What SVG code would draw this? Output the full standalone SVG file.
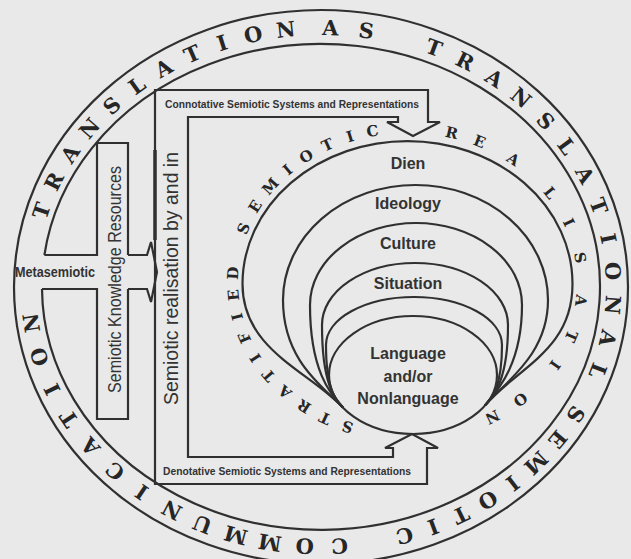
<svg xmlns="http://www.w3.org/2000/svg" width="631" height="559" viewBox="0 0 631 559">
<style>
.ln{fill:none;stroke:#303030;stroke-width:2.2;stroke-linejoin:miter}
.rl{font-family:"DejaVu Serif",serif;font-weight:bold;font-size:21px;fill:#262626;text-anchor:middle;dominant-baseline:central}
.sl{font-family:"DejaVu Serif",serif;font-weight:bold;font-size:15px;fill:#262626;text-anchor:middle;dominant-baseline:central}
.lb{font-family:"Liberation Sans",Arial,sans-serif;font-weight:bold;font-size:16px;fill:#333;text-anchor:middle}
.sm{font-family:"Liberation Sans",Arial,sans-serif;font-weight:bold;font-size:11px;fill:#333;text-anchor:middle}
.vt{font-family:"Liberation Sans",Arial,sans-serif;fill:#333;text-anchor:middle}
</style>
<defs>
<path id="ringMid" d="M 28,287 A 293 260 0 1 1 614,287 A 293 260 0 1 1 28,287"/>
<path id="stratMid" d="M 407.5,436 A 174.5 154 0 0 1 233,282 A 174.5 154 0 0 1 407.5,128 A 174.5 154 0 0 1 582,282 A 174.5 154 0 0 1 407.5,436"/>
</defs>
<rect width="631" height="559" fill="#e9e9e9"/>

<g id="ring">
<ellipse class="ln" cx="321" cy="287" rx="307" ry="277"/>
<path class="ln" d="M 44.4,255 A 279 243 0 1 1 42,289"/>
<text class="rl"><textPath href="#ringMid" startOffset="78">T</textPath></text>
<text class="rl"><textPath href="#ringMid" startOffset="110">R</textPath></text>
<text class="rl"><textPath href="#ringMid" startOffset="142">A</textPath></text>
<text class="rl"><textPath href="#ringMid" startOffset="174">N</textPath></text>
<text class="rl"><textPath href="#ringMid" startOffset="206">S</textPath></text>
<text class="rl"><textPath href="#ringMid" startOffset="238">L</textPath></text>
<text class="rl"><textPath href="#ringMid" startOffset="270">A</textPath></text>
<text class="rl"><textPath href="#ringMid" startOffset="302">T</textPath></text>
<text class="rl"><textPath href="#ringMid" startOffset="334">I</textPath></text>
<text class="rl"><textPath href="#ringMid" startOffset="366">O</textPath></text>
<text class="rl"><textPath href="#ringMid" startOffset="399">N</textPath></text>
<text class="rl"><textPath href="#ringMid" startOffset="444">A</textPath></text>
<text class="rl"><textPath href="#ringMid" startOffset="480">S</textPath></text>
<text class="rl"><textPath href="#ringMid" startOffset="550">T</textPath></text>
<text class="rl"><textPath href="#ringMid" startOffset="584">R</textPath></text>
<text class="rl"><textPath href="#ringMid" startOffset="618">A</textPath></text>
<text class="rl"><textPath href="#ringMid" startOffset="651">N</textPath></text>
<text class="rl"><textPath href="#ringMid" startOffset="685">S</textPath></text>
<text class="rl"><textPath href="#ringMid" startOffset="718">L</textPath></text>
<text class="rl"><textPath href="#ringMid" startOffset="752">A</textPath></text>
<text class="rl"><textPath href="#ringMid" startOffset="786">T</textPath></text>
<text class="rl"><textPath href="#ringMid" startOffset="820">I</textPath></text>
<text class="rl"><textPath href="#ringMid" startOffset="853">O</textPath></text>
<text class="rl"><textPath href="#ringMid" startOffset="887">N</textPath></text>
<text class="rl"><textPath href="#ringMid" startOffset="921">A</textPath></text>
<text class="rl"><textPath href="#ringMid" startOffset="955">L</textPath></text>
<text class="rl"><textPath href="#ringMid" startOffset="1004">S</textPath></text>
<text class="rl"><textPath href="#ringMid" startOffset="1035">E</textPath></text>
<text class="rl"><textPath href="#ringMid" startOffset="1067">M</textPath></text>
<text class="rl"><textPath href="#ringMid" startOffset="1098">I</textPath></text>
<text class="rl"><textPath href="#ringMid" startOffset="1128">O</textPath></text>
<text class="rl"><textPath href="#ringMid" startOffset="1159">T</textPath></text>
<text class="rl"><textPath href="#ringMid" startOffset="1189">I</textPath></text>
<text class="rl"><textPath href="#ringMid" startOffset="1219">C</textPath></text>
<text class="rl"><textPath href="#ringMid" startOffset="1285">C</textPath></text>
<text class="rl"><textPath href="#ringMid" startOffset="1320">O</textPath></text>
<text class="rl"><textPath href="#ringMid" startOffset="1355">M</textPath></text>
<text class="rl"><textPath href="#ringMid" startOffset="1390">M</textPath></text>
<text class="rl"><textPath href="#ringMid" startOffset="1425">U</textPath></text>
<text class="rl"><textPath href="#ringMid" startOffset="1459">N</textPath></text>
<text class="rl"><textPath href="#ringMid" startOffset="1494">I</textPath></text>
<text class="rl"><textPath href="#ringMid" startOffset="1528">C</textPath></text>
<text class="rl"><textPath href="#ringMid" startOffset="1563">A</textPath></text>
<text class="rl"><textPath href="#ringMid" startOffset="1598">T</textPath></text>
<text class="rl"><textPath href="#ringMid" startOffset="1632">I</textPath></text>
<text class="rl"><textPath href="#ringMid" startOffset="1667">O</textPath></text>
<text class="rl"><textPath href="#ringMid" startOffset="1702">N</textPath></text>
</g>

<g id="metasemiotic">
<text x="55" y="277" class="vt" font-size="14" font-weight="bold" textLength="80" lengthAdjust="spacingAndGlyphs">Metasemiotic</text>
</g>

<g id="knowledge-resources">
<path class="ln" d="M 44.4,255 L 97,255 L 97,143 L 128,143 L 128,255 M 128,289 L 128,419 L 97,419 L 97,289 L 42,289"/>
<text class="vt" font-size="19" transform="translate(121,279.5) rotate(-90)" textLength="227" lengthAdjust="spacingAndGlyphs">Semiotic Knowledge Resources</text>
</g>

<g id="realisation-frame">
<path class="ln" d="M 413,136 L 440,122 L 428,122 L 428,90 L 155,90 L 155,484 L 427,484 L 427,448 L 438,448 L 412,434 L 385,448 L 393,448 L 393,457 L 188,457 L 188,117 L 398,117 L 398,122 L 387,122 Z"/>
<line x1="155" y1="150" x2="155" y2="240" stroke="#303030" stroke-width="3.5"/>
<text class="vt" font-size="21" transform="translate(178,278.5) rotate(-90)" textLength="253" lengthAdjust="spacingAndGlyphs">Semiotic realisation by and in</text>
<text x="292" y="107.5" class="sm" textLength="254" lengthAdjust="spacingAndGlyphs">Connotative Semiotic Systems and Representations</text>
<text x="287" y="474.5" class="sm" textLength="248" lengthAdjust="spacingAndGlyphs">Denotative Semiotic Systems and Representations</text>
</g>

<g id="strata">
<path class="ln" d="M 343,407.6 C 309,371 242.5,350 242.5,284 A 165 143 0 0 1 572.5,284 C 572.5,350 518,367 485,405.4"/>
<path class="ln" d="M 343,407.6 C 322,386 283,360 283,300 A 132.5 115 0 0 1 548,300 C 548,355 505,382 485,405.4"/>
<path class="ln" d="M 343,407.6 C 330,394 310,370 310,305 A 106 82 0 0 1 522,305 C 522,365 497,391 485,405.4"/>
<path class="ln" d="M 343,407.6 C 335,399 322,385 322,325 A 93 62 0 0 1 508,325 C 508,382 493,396 485,405.4"/>
<path class="ln" d="M 343,407.6 C 337,401 326,392 326,345 A 88 48 0 0 1 502,345 C 502,390 490,400 485,405.4"/>
<ellipse class="ln" cx="413" cy="375" rx="84" ry="59"/>
<text x="408" y="169" class="lb">Dien</text>
<text x="408" y="209" class="lb">Ideology</text>
<text x="408" y="249" class="lb">Culture</text>
<text x="408" y="289" class="lb">Situation</text>
<text x="408" y="359" class="lb">Language</text>
<text x="408" y="382" class="lb">and/or</text>
<text x="408" y="404" class="lb">Nonlanguage</text>
<text class="sl"><textPath href="#stratMid" startOffset="61">S</textPath></text>
<text class="sl"><textPath href="#stratMid" startOffset="85">T</textPath></text>
<text class="sl"><textPath href="#stratMid" startOffset="109">R</textPath></text>
<text class="sl"><textPath href="#stratMid" startOffset="133">A</textPath></text>
<text class="sl"><textPath href="#stratMid" startOffset="156">T</textPath></text>
<text class="sl"><textPath href="#stratMid" startOffset="178">I</textPath></text>
<text class="sl"><textPath href="#stratMid" startOffset="201">F</textPath></text>
<text class="sl"><textPath href="#stratMid" startOffset="223">I</textPath></text>
<text class="sl"><textPath href="#stratMid" startOffset="245">E</textPath></text>
<text class="sl"><textPath href="#stratMid" startOffset="267">D</textPath></text>
<text class="sl"><textPath href="#stratMid" startOffset="313">S</textPath></text>
<text class="sl"><textPath href="#stratMid" startOffset="338">E</textPath></text>
<text class="sl"><textPath href="#stratMid" startOffset="363">M</textPath></text>
<text class="sl"><textPath href="#stratMid" startOffset="387">I</textPath></text>
<text class="sl"><textPath href="#stratMid" startOffset="410">O</textPath></text>
<text class="sl"><textPath href="#stratMid" startOffset="434">T</textPath></text>
<text class="sl"><textPath href="#stratMid" startOffset="458">I</textPath></text>
<text class="sl"><textPath href="#stratMid" startOffset="481">C</textPath></text>
<text class="sl"><textPath href="#stratMid" startOffset="561">R</textPath></text>
<text class="sl"><textPath href="#stratMid" startOffset="590">E</textPath></text>
<text class="sl"><textPath href="#stratMid" startOffset="628">A</textPath></text>
<text class="sl"><textPath href="#stratMid" startOffset="678">L</textPath></text>
<text class="sl"><textPath href="#stratMid" startOffset="713">I</textPath></text>
<text class="sl"><textPath href="#stratMid" startOffset="750">S</textPath></text>
<text class="sl"><textPath href="#stratMid" startOffset="793">A</textPath></text>
<text class="sl"><textPath href="#stratMid" startOffset="830">T</textPath></text>
<text class="sl"><textPath href="#stratMid" startOffset="863">I</textPath></text>
<text class="sl"><textPath href="#stratMid" startOffset="912">O</textPath></text>
<text class="sl"><textPath href="#stratMid" startOffset="945">N</textPath></text>
</g>

<g id="connectors">
<path class="ln" d="M 128,255 L 147,255 L 151,242 L 157,272 L 151,302 L 147,289 L 128,289"/>
</g>
</svg>
